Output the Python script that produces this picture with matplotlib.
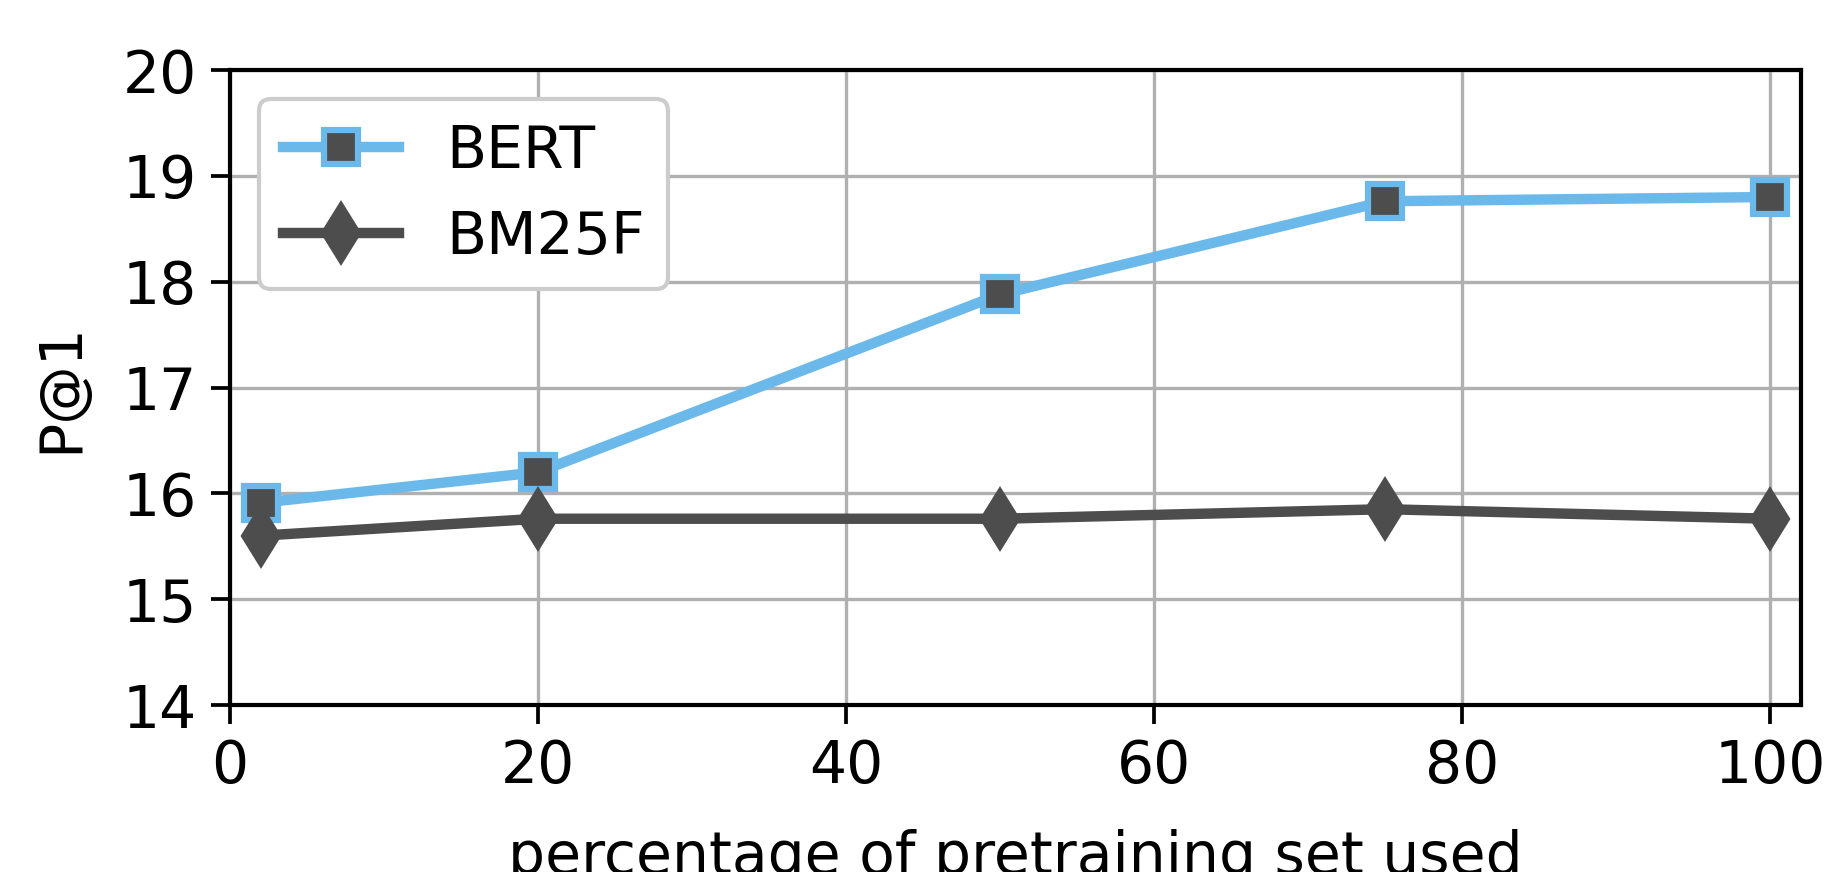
import matplotlib
matplotlib.use("Agg")
import matplotlib.pyplot as plt

# data
pct_used = [2, 20, 50, 75, 100]
bert_p1 = [15.91, 16.20, 17.88, 18.76, 18.80]
bm25f_p1 = [15.60, 15.76, 15.76, 15.85, 15.76]

light_blue = '#6bb9ea'
dark_grey = '#4d4d4d'

plt.rcParams['font.family'] = ['DejaVu Sans']
plt.rcParams['font.size'] = 14

fig = plt.figure(figsize=(6.08, 872 / 300), dpi=300)
ax = fig.add_axes([230 / 1824, 1 - 705 / 872, (1801 - 230) / 1824, (705 - 70) / 872])

ax.plot(pct_used, bert_p1, color=light_blue, lw=2.5, marker='s', ms=8.2,
        mfc=dark_grey, mec=light_blue, mew=1.5, label='BERT', zorder=3)
ax.plot(pct_used, bm25f_p1, color=dark_grey, lw=2.5, marker='d', ms=10,
        mfc=dark_grey, mec=dark_grey, label='BM25F', zorder=3)

ax.set_xlim(0, 102)
ax.set_ylim(14, 20)
ax.set_xticks([0, 20, 40, 60, 80, 100])
ax.set_yticks([14, 15, 16, 17, 18, 19, 20])
ax.tick_params(labelsize=14, length=4.5, width=0.9)
ax.grid(True, color='#b0b0b0', lw=0.8)
ax.set_axisbelow(True)
for s in ax.spines.values():
    s.set_linewidth(1.0)

ax.set_ylabel('P@1', fontsize=14, labelpad=8)
ax.set_xlabel('percentage of pretraining set used', fontsize=14, labelpad=8)

ax.legend(loc='upper left', fontsize=14, framealpha=1.0)

fig.savefig('out.png', dpi=300)
